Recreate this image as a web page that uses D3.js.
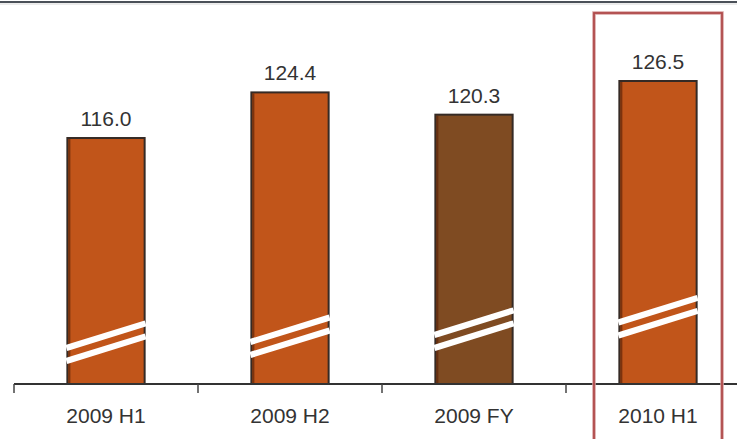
<!DOCTYPE html>
<html>
<head>
<meta charset="utf-8">
<script src="https://cdn.jsdelivr.net/npm/d3@7"></script>
<style>
  html, body { margin: 0; padding: 0; background: #fff; }
  svg { display: block; font-family: "Liberation Sans", Arial, sans-serif; }
</style>
</head>
<body>
<svg id="chart" width="737" height="439"></svg>
<script>
// Periods shown along the axis
const categories = ["2009 H1", "2009 H2", "2009 FY", "2010 H1"];
// Value of each period
const values = [116.0, 124.4, 120.3, 126.5];
// Half-year periods vs. the full-year figure
const periodKinds = ["half", "half", "full", "half"];
// Level (in value units) where each bar's axis-break marks sit
const breakValues = [78.4, 79.5, 80.8, 83.1];
// Period singled out by the frame
const highlighted = "2010 H1";

const W = 737, H = 439;
const svg = d3.select("#chart");

const x = d3.scaleBand().domain(categories).range([14, 750]).padding(0);
// Truncated value axis (the bars are drawn with a break)
const y = d3.scaleLinear().domain([70.7, 126.5]).range([384, 81]);
const color = d3.scaleOrdinal().domain(["half", "full"]).range(["#c1551a", "#7f4b22"]);

const barW = x.bandwidth() * 0.42;
const data = categories.map((c, i) => ({ cat: c, value: values[i], kind: periodKinds[i], brk: breakValues[i] }));

// Rule along the top of the panel
svg.append("line").attr("x1", 0).attr("x2", W).attr("y1", 2).attr("y2", 2)
  .attr("stroke", "#4a5058").attr("stroke-width", 2);
svg.append("line").attr("x1", 0).attr("x2", W).attr("y1", 4).attr("y2", 4)
  .attr("stroke", "#d8d8d8").attr("stroke-width", 1);

const bars = svg.append("g").selectAll("g.bar").data(data).join("g").attr("class", "bar");

// Bar bodies
bars.append("rect")
  .attr("x", d => x(d.cat) + (x.bandwidth() - barW) / 2)
  .attr("y", d => y(d.value))
  .attr("width", barW)
  .attr("height", d => y.range()[0] - y(d.value))
  .attr("fill", d => color(d.kind))
  .attr("stroke", "#352a25")
  .attr("stroke-width", 2);

// Darker inner edge on the left side
bars.append("rect")
  .attr("x", d => x(d.cat) + (x.bandwidth() - barW) / 2 + 1)
  .attr("y", d => y(d.value) + 1)
  .attr("width", 2)
  .attr("height", d => y.range()[0] - y(d.value) - 1)
  .attr("fill", "#5e2408")
  .attr("opacity", 0.7);

// Axis-break marks: two slanted white stripes across each bar
const slope = 0.31, gap = 13;
bars.each(function (d) {
  const g = d3.select(this);
  const x0 = x(d.cat) + (x.bandwidth() - barW) / 2 - 1;
  const x1 = x0 + barW + 2;
  const yc = y(d.brk);
  const half = (x1 - x0) / 2 * slope;
  [-gap / 2, gap / 2].forEach(off => {
    g.append("line")
      .attr("x1", x0).attr("y1", yc + off + half)
      .attr("x2", x1).attr("y2", yc + off - half)
      .attr("stroke", "#fff").attr("stroke-width", 6.2);
  });
});

// Value labels
bars.append("text")
  .attr("x", d => x(d.cat) + x.bandwidth() / 2)
  .attr("y", d => y(d.value) - 12)
  .attr("text-anchor", "middle")
  .attr("font-size", 21)
  .attr("fill", "#333")
  .text(d => d.value.toFixed(1));

// Category axis
const axisY = y.range()[0];
const axis = svg.append("g").attr("transform", `translate(0,${axisY})`)
  .call(d3.axisBottom(x).tickSize(0).tickPadding(24));
axis.select(".domain").remove();
axis.selectAll("text").attr("font-size", 21).attr("fill", "#333")
  .attr("font-family", "Liberation Sans, Arial, sans-serif");

svg.append("line").attr("x1", 14).attr("x2", W).attr("y1", axisY).attr("y2", axisY)
  .attr("stroke", "#333").attr("stroke-width", 2);

// Boundary ticks between periods
const bounds = categories.map(c => x(c));
svg.append("g").selectAll("line").data(bounds).join("line")
  .attr("x1", d => d).attr("x2", d => d)
  .attr("y1", axisY).attr("y2", axisY + 9)
  .attr("stroke", "#444").attr("stroke-width", 1.5);

// Highlight frame around the latest period
const hx = x(highlighted) + x.bandwidth() / 2;
svg.append("rect")
  .attr("x", hx - 64).attr("y", 13)
  .attr("width", 128).attr("height", H + 20)
  .attr("fill", "none")
  .attr("stroke", "#d9a3a3").attr("stroke-width", 3.5);
svg.append("rect")
  .attr("x", hx - 64).attr("y", 13)
  .attr("width", 128).attr("height", H + 20)
  .attr("fill", "none")
  .attr("stroke", "#b04c4c").attr("stroke-width", 1.8);
</script>
</body>
</html>
